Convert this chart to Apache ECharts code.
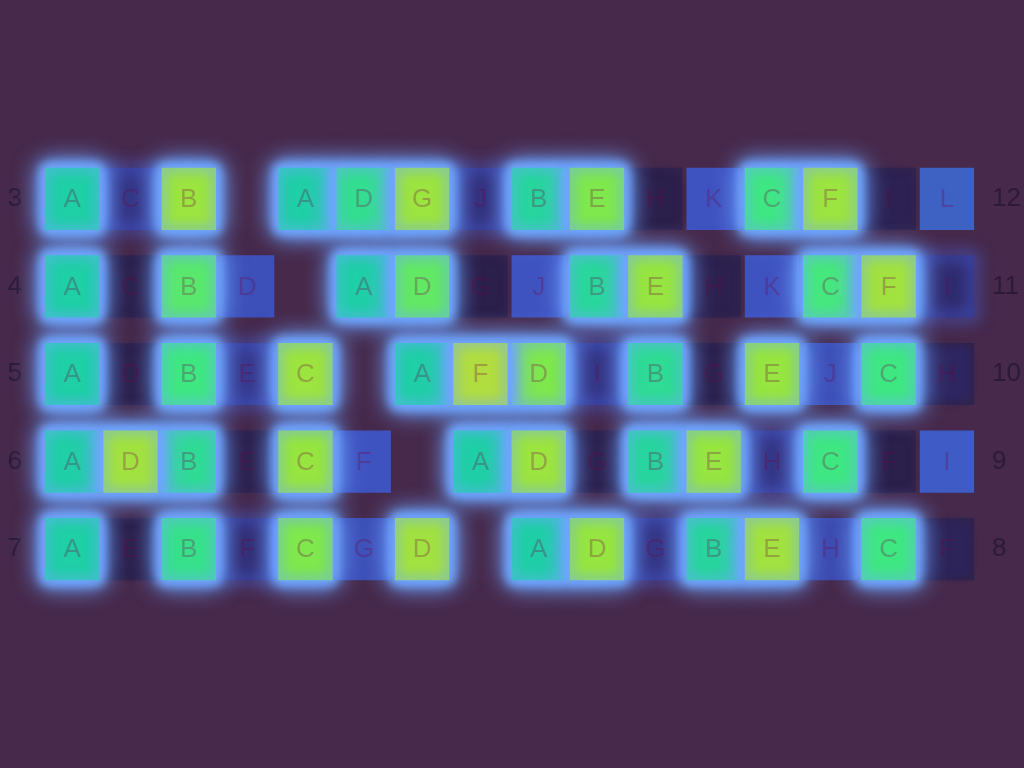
<!DOCTYPE html>
<html><head><meta charset="utf-8">
<script src="https://cdn.jsdelivr.net/npm/echarts@6/dist/echarts.min.js"></script>
<style>html,body{margin:0;padding:0;background:#46294b;} #c{width:1024px;height:768px;}</style>
</head><body><div id="c"></div>
<script>
// Row labels
const leftRowLabels = ['3', '4', '5', '6', '7'];
const rightRowLabels = ['12', '11', '10', '9', '8'];
const columns = ['0','1','2','3','4','5','6','7','8','9','10','11','12','13','14','15'];

// Left block rows (3..7)
const seq3 = ['A','C','B'];
const val3 = [50, 18, 88];
const seq4 = ['A','C','B','D'];
const val4 = [50, 2, 72, 30];
const seq5 = ['A','D','B','E','C'];
const val5 = [50, 2, 66, 20, 88];
const seq6 = ['A','D','B','E','C','F'];
const val6 = [50, 90, 58, 3, 86, 32];
const seq7 = ['A','E','B','F','C','G','D'];
const val7 = [50, 2, 62, 14, 80, 30, 90];

// Right block rows (12..8)
const seq12 = ['A','D','G','J','B','E','H','K','C','F','I','L'];
const val12 = [50, 60, 88, 16, 54, 80, 2, 32, 66, 88, 4, 35];
const seq11 = ['A','D','G','J','B','E','H','K','C','F','I'];
const val11 = [50, 74, 2, 32, 55, 86, 3, 32, 68, 90, 12];
const seq10 = ['A','F','D','I','B','G','E','J','C','H'];
const val10 = [50, 95, 80, 18, 58, 2, 86, 30, 66, 8];
const seq9 = ['A','D','G','B','E','H','C','F','I'];
const val9 = [50, 88, 3, 54, 86, 18, 66, 2, 34];
const seq8 = ['A','D','G','B','E','H','C','F'];
const val8 = [50, 86, 18, 54, 90, 28, 66, 6];

const leftSeqs = [seq3, seq4, seq5, seq6, seq7];
const leftVals = [val3, val4, val5, val6, val7];
const rightSeqs = [seq12, seq11, seq10, seq9, seq8];
const rightVals = [val12, val11, val10, val9, val8];

const cells = [];
leftSeqs.forEach((seq, row) => {
  seq.forEach((letter, i) => cells.push({ col: i, row: row, v: leftVals[row][i], letter: letter }));
});
rightSeqs.forEach((seq, row) => {
  const start = columns.length - seq.length;
  seq.forEach((letter, i) => cells.push({ col: start + i, row: row, v: rightVals[row][i], letter: letter }));
});
cells.sort((a, b) => a.v - b.v);
const cellData = cells.map(c => [c.col, c.row, c.v]);
const cellLetters = cells.map(c => c.letter);

const GLOW = 'rgba(112,165,255,1)';
const OFF = 4000;

// blurred-only shape (shape drawn off-canvas, only its shadow lands on the cell)
function soft(shape, expand, r, style) {
  return {
    type: 'rect',
    shape: { x: shape.x - expand - OFF, y: shape.y - expand, width: shape.width + 2 * expand, height: shape.height + 2 * expand, r: r },
    style: Object.assign({ shadowOffsetX: OFF, shadowOffsetY: 0 }, style)
  };
}

function renderCell(params, api) {
  const col = api.value(0), row = api.value(1), v = api.value(2);
  const c = api.coord([col, row]);
  const s = api.size([1, 1]);
  const w = s[0] - 4, h = s[1] * 0.71;
  const shape = { x: c[0] - w / 2, y: c[1] - h / 2, width: w, height: h };
  const fill = api.visual('color');
  const children = [];
  if (v >= 45) {
    children.push(soft(shape, 9, 16, { fill: '#000', shadowBlur: 22, shadowColor: GLOW }));
    children.push(soft(shape, 4, 8, { fill: '#000', shadowBlur: 10, shadowColor: GLOW }));
    children.push({ type: 'rect', shape: shape, style: { fill: fill } });
    children.push(soft(shape, 0, 0, { fill: null, stroke: '#000', lineWidth: 5, shadowBlur: 12, shadowColor: 'rgba(112,168,255,0.9)' }));
  } else if (v >= 10 && v < 25) {
    children.push({ type: 'rect', shape: shape, style: { fill: fill } });
    children.push(soft(shape, 0, 0, { fill: null, stroke: '#000', lineWidth: 6, shadowBlur: 16, shadowColor: 'rgba(72,96,218,1)' }));
  } else if (v < 10) {
    children.push({ type: 'rect', shape: shape, style: { fill: '#30234e' } });
    children.push(soft(shape, -3, 12, { fill: '#000', shadowBlur: 6, shadowColor: fill }));
  } else {
    children.push({ type: 'rect', shape: shape, style: { fill: fill } });
  }
  return { type: 'group', children: children };
}

function renderLetter(params, api) {
  const c = api.coord([api.value(0), api.value(1)]);
  return {
    type: 'text', x: c[0], y: c[1] + 1,
    style: { text: cellLetters[params.dataIndex], fill: 'rgba(115,0,65,0.28)', font: '26px "Liberation Sans", Arial, sans-serif', align: 'center', verticalAlign: 'middle' }
  };
}

const chart = echarts.init(document.getElementById('c'));
chart.setOption({
  backgroundColor: '#46294b',
  animation: false,
  grid: { left: 43, right: 47, top: 155, bottom: 175 },
  xAxis: { type: 'category', data: columns, show: false },
  yAxis: [
    { type: 'category', data: leftRowLabels, inverse: true, position: 'left',
      axisLine: { show: false }, axisTick: { show: false }, splitLine: { show: false },
      axisLabel: { fontSize: 26, color: '#2c1a38', margin: 21, fontFamily: 'Liberation Sans' } },
    { type: 'category', data: rightRowLabels, inverse: true, position: 'right',
      axisLine: { show: false }, axisTick: { show: false }, splitLine: { show: false },
      axisLabel: { fontSize: 26, color: '#2c1a38', margin: 16, fontFamily: 'Liberation Sans' } }
  ],
  visualMap: {
    show: false, type: 'continuous', min: 0, max: 100, dimension: 2, seriesIndex: 0,
    inRange: { color: ['#2a1c44', '#33317e', '#4056c6', '#1fcfa6', '#40e882', '#8ee840', '#c0d840'] }
  },
  series: [
    { type: 'custom', renderItem: renderCell, data: cellData, encode: { x: 0, y: 1 } },
    { type: 'custom', renderItem: renderLetter, data: cellData, encode: { x: 0, y: 1 }, z: 5, silent: true }
  ]
});
</script>
</body></html>
